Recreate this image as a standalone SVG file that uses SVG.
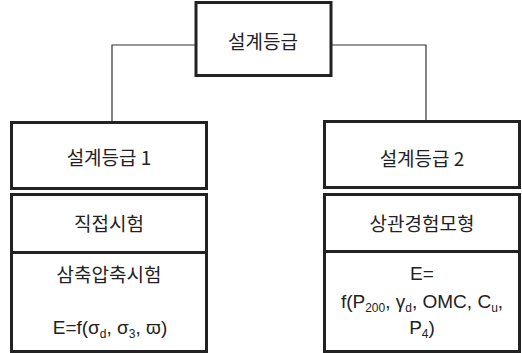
<svg xmlns="http://www.w3.org/2000/svg" width="522" height="353" viewBox="0 0 522 353">
<style>
.box{fill:#fff;stroke:#222;stroke-width:3}
.t{font-family:"Noto Sans CJK KR","Liberation Sans",sans-serif;font-size:19px;fill:#222;text-anchor:middle}
.f{font-family:"Liberation Sans","Noto Sans CJK KR",sans-serif;font-size:19px;fill:#222;text-anchor:middle}
.c{fill:none;stroke:#333;stroke-width:1.2}
</style>
<rect width="522" height="353" fill="#fff"/>
<g id="connectors">
<path class="c" d="M112,122 V45 H426 V121"/>
</g>
<g id="root">
<rect class="box" x="196" y="2.5" width="135" height="73"/>
<text class="t" x="263" y="49">설계등급</text>
</g>
<g id="grade1">
<rect class="box" x="11.5" y="122.5" width="195" height="66"/>
<text class="t" x="109" y="165">설계등급 1</text>
</g>
<g id="direct">
<rect class="box" x="11.5" y="194.5" width="195" height="58"/>
<text class="t" x="109" y="231">직접시험</text>
</g>
<g id="triaxial">
<rect class="box" x="11.5" y="252.5" width="195" height="99"/>
<text class="t" x="109" y="282">삼축압축시험</text>
<text class="f" x="110" y="334">E=f(σ<tspan font-size="12" dy="4">d</tspan><tspan dy="-4">, σ</tspan><tspan font-size="12" dy="4">3</tspan><tspan dy="-4">, ϖ)</tspan></text>
</g>
<g id="grade2">
<rect class="box" x="324.5" y="121.5" width="195" height="66"/>
<text class="t" x="422" y="166">설계등급 2</text>
</g>
<g id="empirical">
<rect class="box" x="324.5" y="194.5" width="195" height="57"/>
<text class="t" x="422" y="231">상관경험모형</text>
</g>
<g id="model">
<rect class="box" x="324.5" y="251.5" width="195" height="100"/>
<text class="f" x="422" y="280">E=</text>
<text class="f" x="422" y="308">f(P<tspan font-size="12" dy="4">200</tspan><tspan dy="-4">, γ</tspan><tspan font-size="12" dy="4">d</tspan><tspan dy="-4">, OMC, C</tspan><tspan font-size="12" dy="4">u</tspan><tspan dy="-4">,</tspan></text>
<text class="f" x="422" y="334">P<tspan font-size="12" dy="4">4</tspan><tspan dy="-4">)</tspan></text>
</g>
</svg>
